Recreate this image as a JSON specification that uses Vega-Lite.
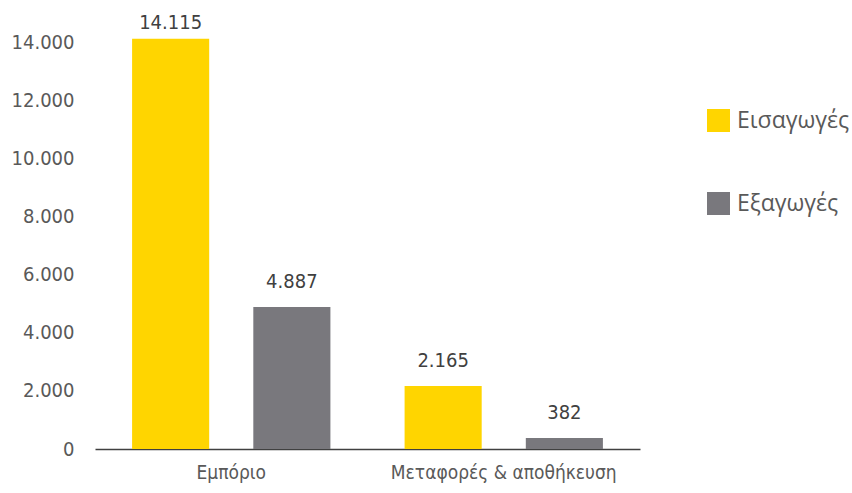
{
  "$schema": "https://vega.github.io/schema/vega-lite/v6.json",
  "width": 545,
  "height": 436,
  "autosize": {"type": "none"},
  "padding": {"left": 95, "top": 13, "right": 212, "bottom": 44},
  "background": "white",
  "config": {"view": {"stroke": null}},
  "data": {
    "values": [
      {"sector": "Εμπόριο", "flow": "Εισαγωγές", "value": 14115, "label": "14.115"},
      {"sector": "Εμπόριο", "flow": "Εξαγωγές", "value": 4887, "label": "4.887"},
      {"sector": "Μεταφορές & αποθήκευση", "flow": "Εισαγωγές", "value": 2165, "label": "2.165"},
      {"sector": "Μεταφορές & αποθήκευση", "flow": "Εξαγωγές", "value": 382, "label": "382"}
    ]
  },
  "encoding": {
    "x": {
      "field": "sector", "type": "nominal", "sort": null, "title": null,
      "scale": {"paddingInner": 0, "paddingOuter": 0},
      "axis": {
        "labelAngle": 0, "ticks": false, "domainColor": "#404040", "domainWidth": 1.5,
        "labelFont": "DejaVu Sans Condensed", "labelFontSize": 19, "labelColor": "#595959",
        "labelPadding": 14, "labelBaseline": "top", "labelLimit": 0
      }
    },
    "xOffset": {
      "field": "flow", "type": "nominal", "sort": ["Εισαγωγές", "Εξαγωγές"],
      "scale": {"paddingInner": 0.364, "paddingOuter": 0.306}
    },
    "y": {
      "field": "value", "type": "quantitative", "title": null,
      "scale": {"domain": [0, 15000], "nice": false},
      "axis": {
        "values": [0, 2000, 4000, 6000, 8000, 10000, 12000, 14000],
        "labelExpr": "replace(format(datum.value, ',d'), ',', '.')",
        "grid": false, "domain": false, "ticks": false, "labelPadding": 21,
        "labelFont": "DejaVu Sans Condensed", "labelFontSize": 20, "labelColor": "#595959"
      }
    }
  },
  "layer": [
    {
      "mark": {"type": "bar"},
      "encoding": {
        "color": {
          "field": "flow", "type": "nominal", "sort": ["Εισαγωγές", "Εξαγωγές"],
          "scale": {"domain": ["Εισαγωγές", "Εξαγωγές"], "range": ["#FFD500", "#79787D"]},
          "legend": {
            "title": null, "orient": "none", "legendX": 612, "legendY": 96,
            "symbolType": "square", "symbolSize": 529, "symbolStrokeWidth": 0, "symbolOpacity": 1,
            "labelFont": "Open Sans", "labelFontSize": 23, "labelColor": "#595959",
            "labelOffset": 7, "rowPadding": 59
          }
        }
      }
    },
    {
      "transform": [{"filter": "datum.value < 10000"}],
      "mark": {"type": "text", "baseline": "alphabetic", "dy": -19, "font": "DejaVu Sans Condensed", "fontSize": 20, "color": "#404040"},
      "encoding": {"text": {"field": "label"}}
    },
    {
      "transform": [{"filter": "datum.value >= 10000"}],
      "mark": {"type": "text", "baseline": "alphabetic", "dy": -10, "font": "DejaVu Sans Condensed", "fontSize": 20, "color": "#404040"},
      "encoding": {"text": {"field": "label"}}
    }
  ]
}
